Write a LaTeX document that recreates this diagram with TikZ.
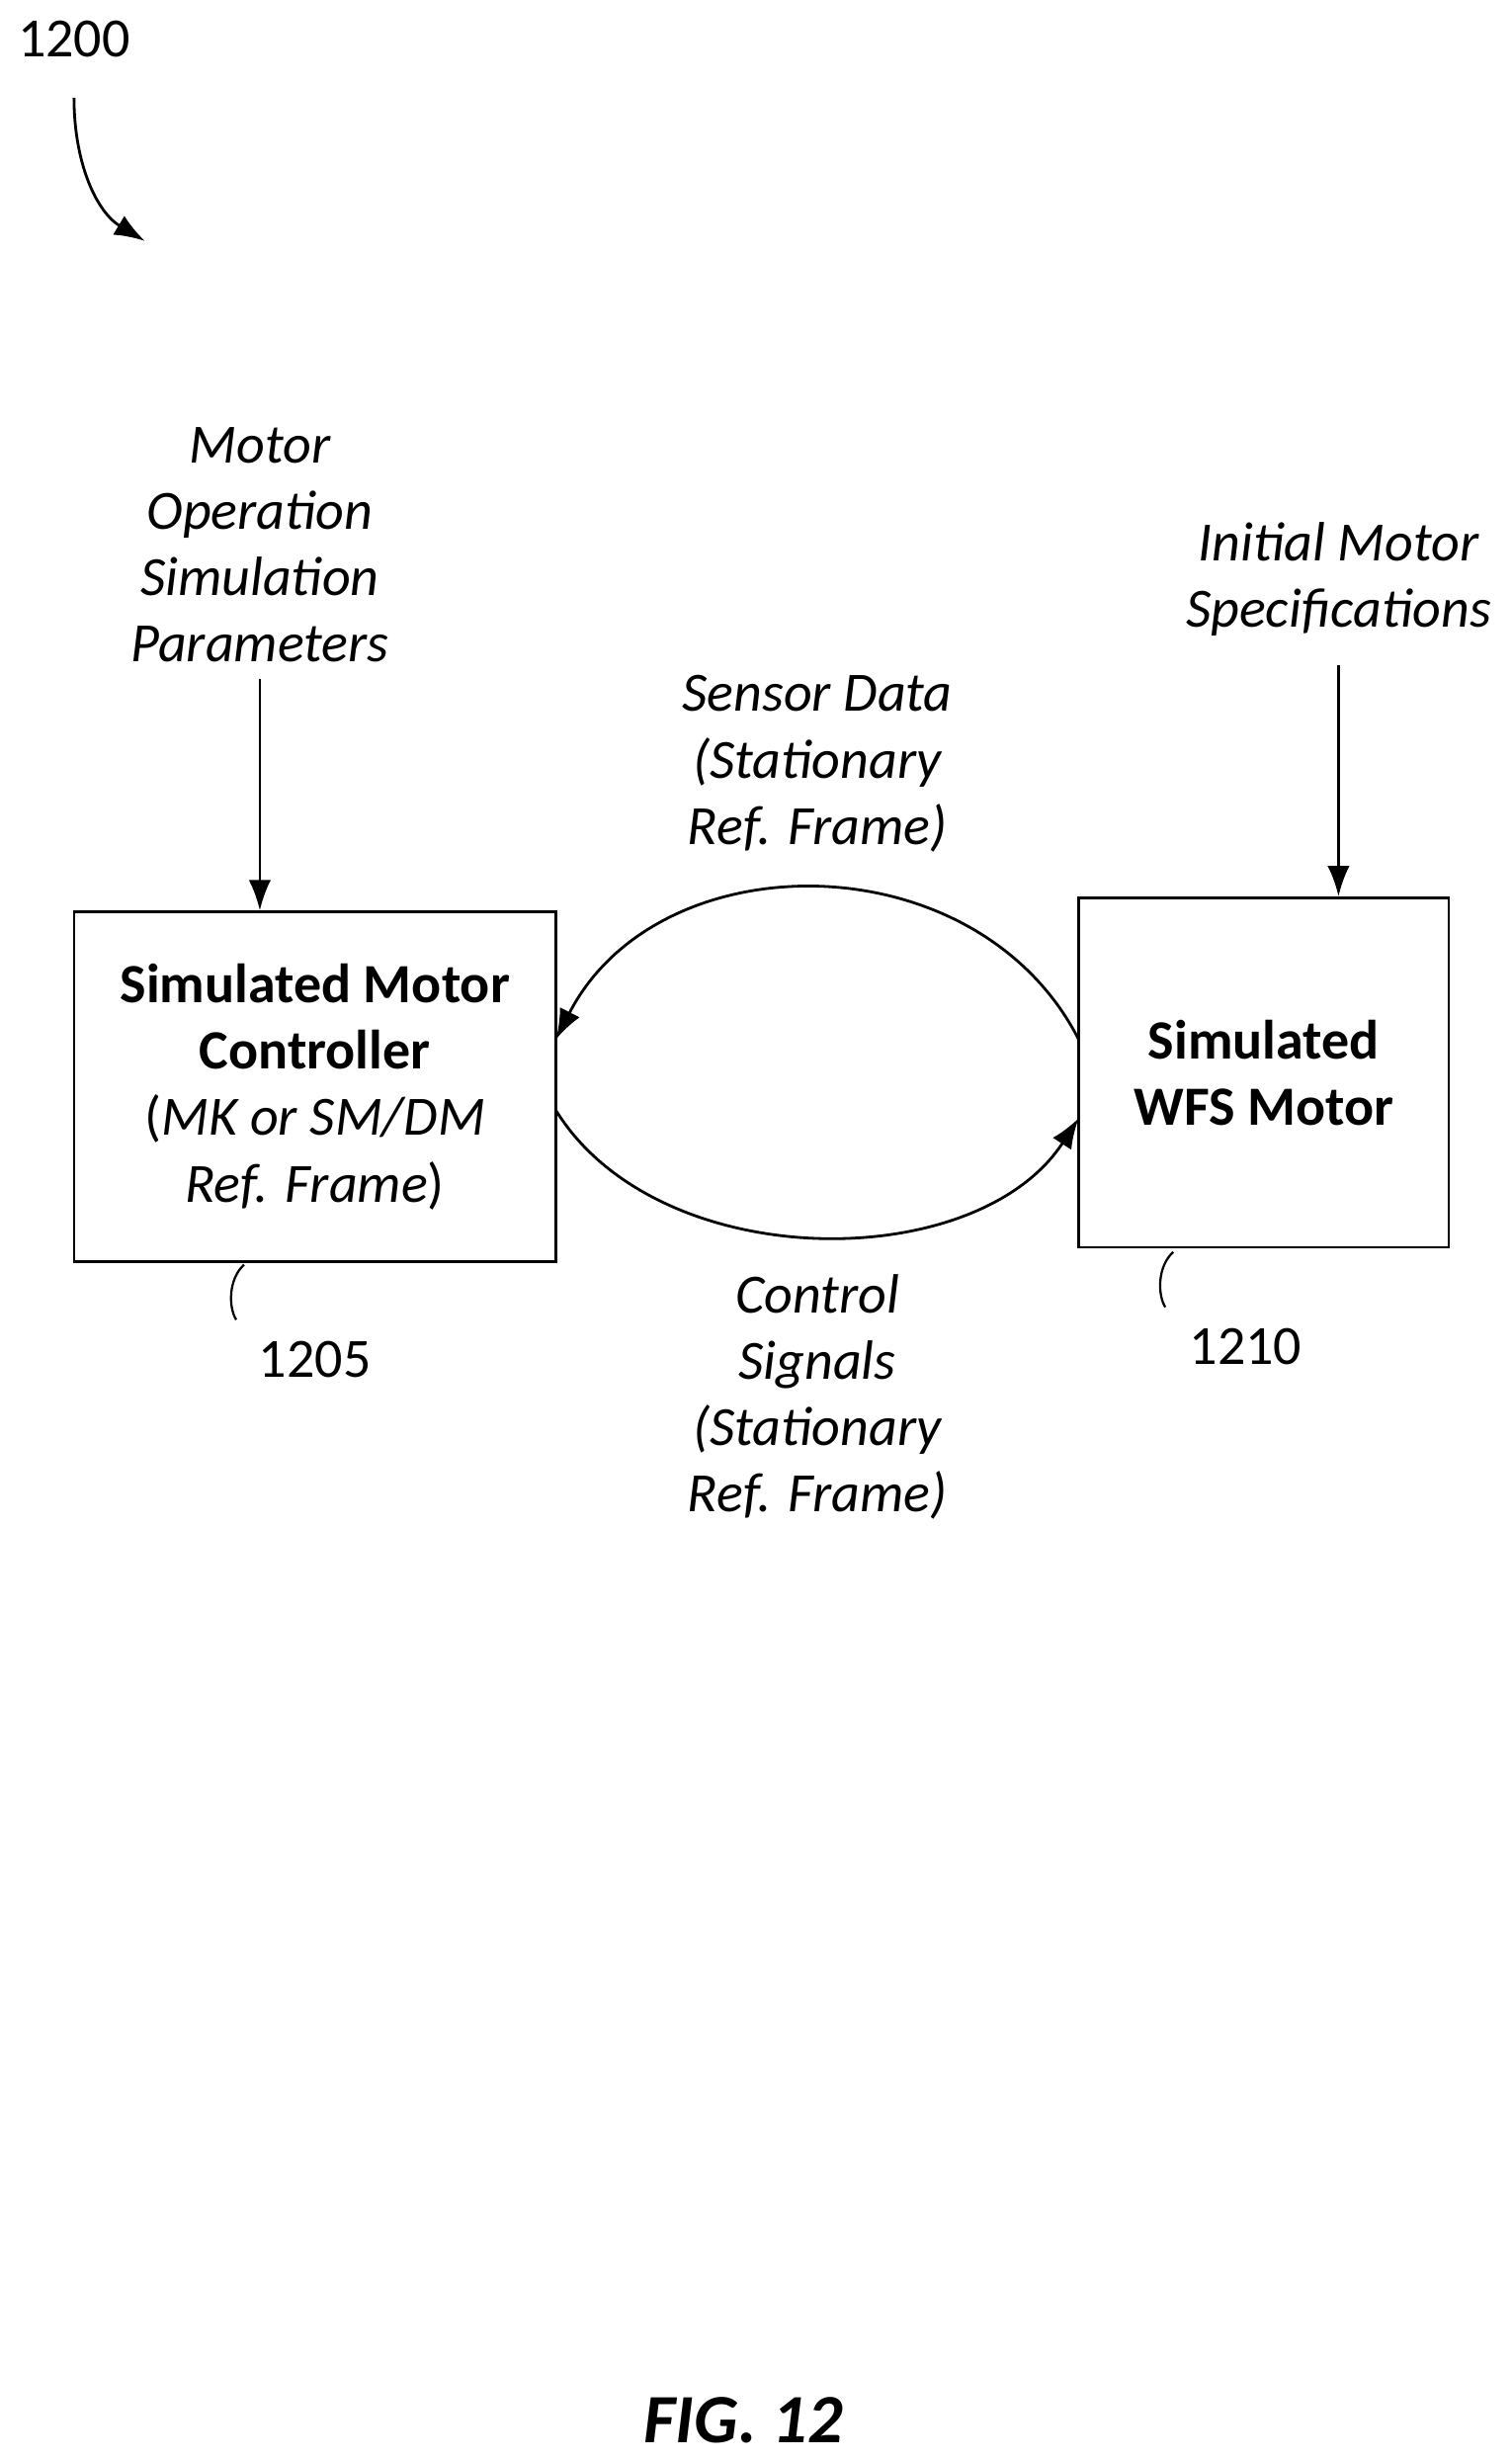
\documentclass[tikz,border=0pt]{standalone}
\usepackage{fontspec}
\setmainfont{Carlito}
\usetikzlibrary{positioning,arrows.meta}
\tikzset{
  block/.style={draw, line width=1pt, align=center, inner sep=0pt},
  lbl/.style={align=center, font=\fontsize{20}{22}\selectfont\itshape, inner sep=0pt},
  arr/.style={line width=1pt, -{Latex[length=11pt,width=8pt]}},
  lead/.style={line width=0.8pt}
}
\begin{document}
\begin{tikzpicture}[x=0.02cm,y=-0.02cm,font=\fontsize{20}{22}\selectfont]
    \useasboundingbox (0,0) rectangle (960,1562);
    % figure number
    \node[inner sep=0pt] (fig) at (47,25) {1200};
    \coordinate (figa) at (47,62);
    \coordinate (figb) at (92,153);
    \draw[arr] (figa) .. controls (47,105) and (62,135) .. (figb);
    % blocks
    \node[block, minimum width=6.12cm, minimum height=4.44cm] (ctrl) at (200,690)
      {\textbf{Simulated Motor}\\[2pt]\textbf{Controller}\\[2pt](\textit{MK or SM/DM}\\[2pt]\textit{Ref. Frame})};
    \node[block, minimum width=4.7cm, minimum height=4.44cm] (motor) at (802.5,681)
      {\textbf{Simulated}\\[2pt]\textbf{WFS Motor}};
    % inputs
    \node[lbl] (params) at (165,346) {Motor\\[2pt]Operation\\[2pt]Simulation\\[2pt]Parameters};
    \node[lbl] (specs) at (850,368) {Initial Motor\\[2pt]Specifications};
    \draw[arr] (params.south) ++(0,10) coordinate (pa) (pa) -- (ctrl.north -| pa);
    \draw[arr] (specs.south) ++(0,18) coordinate (sa) (sa) -- (motor.north -| sa);
    % feedback loop
    \coordinate (mt) at (685,660);
    \coordinate (ct) at (353,660);
    \coordinate (cb) at (353,705);
    \coordinate (mb) at (685,710);
    \draw[arr] (mt) .. controls (620,533) and (418,533) .. (ct);
    \draw[arr] (cb) .. controls (418,810) and (620,810) .. (mb);
    \node[lbl] (sensor) at (519,485) {Sensor Data\\[2pt](Stationary\\[2pt]Ref. Frame)};
    \node[lbl] (signals) at (519,887) {Control\\[2pt]Signals\\[2pt](Stationary\\[2pt]Ref. Frame)};
    % reference numerals
    \node[inner sep=0pt] (n1205) at (200,863) {1205};
    \node[inner sep=0pt] (n1210) at (791,855) {1210};
    \draw[lead] (155,803) .. controls (145,812) and (145,830) .. (150,838);
    \draw[lead] (745,795) .. controls (735,804) and (735,822) .. (740,830);
    \node[inner sep=0pt, font=\fontsize{25}{27}\selectfont\bfseries\itshape] (caption) at (472,1537) {FIG. 12};
\end{tikzpicture}
\end{document}
